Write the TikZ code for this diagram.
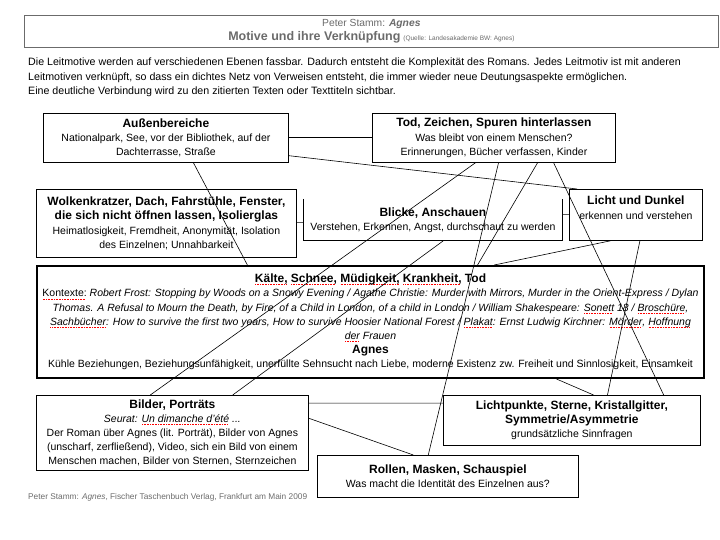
\documentclass[tikz,border=0pt]{standalone}
\usepackage{fontspec}
\setmainfont{Liberation Sans}
\usetikzlibrary{calc}
\definecolor{hdr}{gray}{0.42}
\newcommand\sperr[1]{\leavevmode\setbox0\hbox{#1}\rlap{\raisebox{-2.3pt}{\textcolor{red}{\leaders\hbox to 1.6pt{\hss\rule{0.9pt}{0.6pt}\hss}\hskip\wd0}}}\box0{}}
\newcommand\fn{\fontsize{10.5}{14.2}\selectfont}
\newcommand\fb{\fontsize{12}{14.2}\selectfont\bfseries}
\begin{document}
\begin{tikzpicture}[x=1pt,y=-1pt,
  box/.style={draw, line width=0.8pt, anchor=north west, inner sep=0pt, align=center, font=\fn},
  conn/.style={line width=0.6pt}]
\useasboundingbox (0,0) rectangle (720,540);

\node[box, draw=hdr, line width=0.7pt, minimum width=694pt, minimum height=32pt, text=hdr] (header) at (24,15)
  {{\fontsize{10.3}{17}\selectfont Peter Stamm: \textbf{\textit{Agnes}}}\\{\fontsize{12.5}{14}\selectfont\bfseries Motive und ihre Verknüpfung} {\fontsize{6.5}{7}\selectfont (Quelle: Landesakademie BW: Agnes)}};

\node[anchor=north west, align=left, inner sep=0pt, font=\fontsize{10.65}{14.5}\selectfont] (intro) at (28,58)
  {Die Leitmotive werden auf verschiedenen Ebenen fassbar. Dadurch entsteht die Komplexität des Romans. Jedes Leitmotiv ist mit anderen\\
   Leitmotiven verknüpft, so dass ein dichtes Netz von Verweisen entsteht, die immer wieder neue Deutungsaspekte ermöglichen.\\
   Eine deutliche Verbindung wird zu den zitierten Texten oder Texttiteln sichtbar.};

\node[box, minimum width=245pt, minimum height=49pt] (aussen) at (43,113)
  {{\fb Außenbereiche}\\Nationalpark, See, vor der Bibliothek, auf der\\Dachterrasse, Straße};

\node[box, minimum width=243pt, minimum height=49pt] (tod) at (372,113)
  {{\fb Tod, Zeichen, Spuren hinterlassen}\\Was bleibt von einem Menschen?\\Erinnerungen, Bücher verfassen, Kinder};

\node[box, minimum width=260pt, minimum height=68pt] (wolk) at (36,189)
  {{\fb Wolkenkratzer, Dach, Fahrstühle, Fenster,}\\{\fb die sich nicht öffnen lassen, Isolierglas}\\Heimatlosigkeit, Fremdheit, Anonymität, Isolation\\des Einzelnen; Unnahbarkeit};

\node[box, draw=none, minimum width=259pt, minimum height=41pt] (blicke) at (303,199)
  {{\fb Blicke, Anschauen}\\Verstehen, Erkennen, Angst, durchschaut zu werden};
\draw[line width=0.8pt] (blicke.north west) -- (blicke.south west) -- (blicke.south east) -- (blicke.north east);

\node[box, minimum width=133pt, minimum height=51pt] (licht) at (569,189) {};
\node[anchor=north, inner sep=0pt, align=center, font=\fn] (lichttext) at ($(licht.north)+(0,7)$)
  {{\fb Licht und Dunkel}\\erkennen und verstehen};

\node[box, line width=2pt, minimum width=667pt, minimum height=112pt] (main) at (36,265)
  {{\fb \sperr{Kälte,} \sperr{Schnee,} \sperr{Müdigkeit,} \sperr{Krankheit,} Tod}\\
   \sperr{Kontexte:} \textit{Robert Frost: Stopping by Woods on a Snowy Evening / Agathe Christie: Murder with Mirrors, Murder in the Orient-Express / Dylan}\\
   \textit{Thomas. A Refusal to Mourn the Death, by Fire, of a Child in London, of a child in London / William Shakespeare: \sperr{Sonett} 18 / \sperr{Broschüre},}\\
   \textit{\sperr{Sachbücher}: How to survive the first two years, How to survive Hoosier National Forest / \sperr{Plakat}: Ernst Ludwig Kirchner: \sperr{Mörder}, \sperr{Hoffnung}}\\
   \textit{\sperr{der} Frauen}\\
   {\fb Agnes}\\
   Kühle Beziehungen, Beziehungsunfähigkeit, unerfüllte Sehnsucht nach Liebe, moderne Existenz zw. Freiheit und Sinnlosigkeit, Einsamkeit};

\node[box, minimum width=272pt, minimum height=75pt] (bilder) at (36,395)
  {{\fb Bilder, Porträts}\\\textit{Seurat: \sperr{Un dimanche d'été} ...}\\Der Roman über Agnes (lit. Porträt), Bilder von Agnes\\(unscharf, zerfließend), Video, sich ein Bild von einem\\Menschen machen, Bilder von Sternen, Sternzeichen};

\node[box, minimum width=257pt, minimum height=50pt] (lpunkte) at (443,395)
  {{\fb Lichtpunkte, Sterne, Kristallgitter,}\\{\fb Symmetrie/Asymmetrie}\\grundsätzliche Sinnfragen};

\node[box, minimum width=261pt, minimum height=42pt] (rollen) at (317,455)
  {{\fb Rollen, Masken, Schauspiel}\\Was macht die Identität des Einzelnen aus?};

\node[anchor=west, inner sep=0pt, text=hdr, font=\fontsize{8.3}{9}\selectfont] (footer) at (28,497)
  {Peter Stamm: \textit{Agnes}, Fischer Taschenbuch Verlag, Frankfurt am Main 2009};

\draw[conn] ($(aussen.north east)!0.49!(aussen.south east)$) -- ($(tod.north west)!0.49!(tod.south west)$);
\draw[conn] ($(aussen.north east)!0.857!(aussen.south east)$) -- ($(licht.north west)!0.06!(licht.north east)$);
\draw[conn] ($(aussen.south west)!0.612!(aussen.south east)$) -- ($(main.north west)!0.316!(main.north east)$);
\draw[conn] ($(tod.south west)!0.424!(tod.south east)$) -- ($(bilder.north west)!0.419!(bilder.north east)$);
\draw[conn] ($(tod.south west)!0.519!(tod.south east)$) -- ($(rollen.north west)!0.425!(rollen.north east)$);
\draw[conn] ($(tod.south west)!0.679!(tod.south east)$) -- ($(main.north west)!0.66!(main.north east)$);
\draw[conn] ($(tod.south west)!0.745!(tod.south east)$) -- ($(lpunkte.north west)!0.856!(lpunkte.north east)$);
\draw[conn] ($(blicke.south west)!0.54!(blicke.south east)$) -- ($(bilder.north west)!0.721!(bilder.north east)$);
\draw[conn] ($(licht.south west)!0.31!(licht.south east)$) -- ($(main.north west)!0.685!(main.north east)$);
\draw[conn] ($(licht.south west)!0.53!(licht.south east)$) -- ($(lpunkte.north west)!0.638!(lpunkte.north east)$);
\draw[conn] ($(wolk.north east)!0.485!(wolk.south east)$) -- ($(blicke.north west)!0.56!(blicke.south west)$);
\draw[conn] ($(blicke.north east)!0.366!(blicke.south east)$) -- ($(licht.north west)!0.49!(licht.south west)$);
\draw[conn] ($(main.south west)!0.778!(main.south east)$) -- ($(lpunkte.north west)!0.584!(lpunkte.north east)$);
\draw[conn] ($(bilder.north east)!0.107!(bilder.south east)$) -- ($(lpunkte.north west)!0.16!(lpunkte.south west)$);
\draw[conn] ($(bilder.north east)!0.307!(bilder.south east)$) -- ($(rollen.north west)!0.368!(rollen.north east)$);
\end{tikzpicture}
\end{document}
